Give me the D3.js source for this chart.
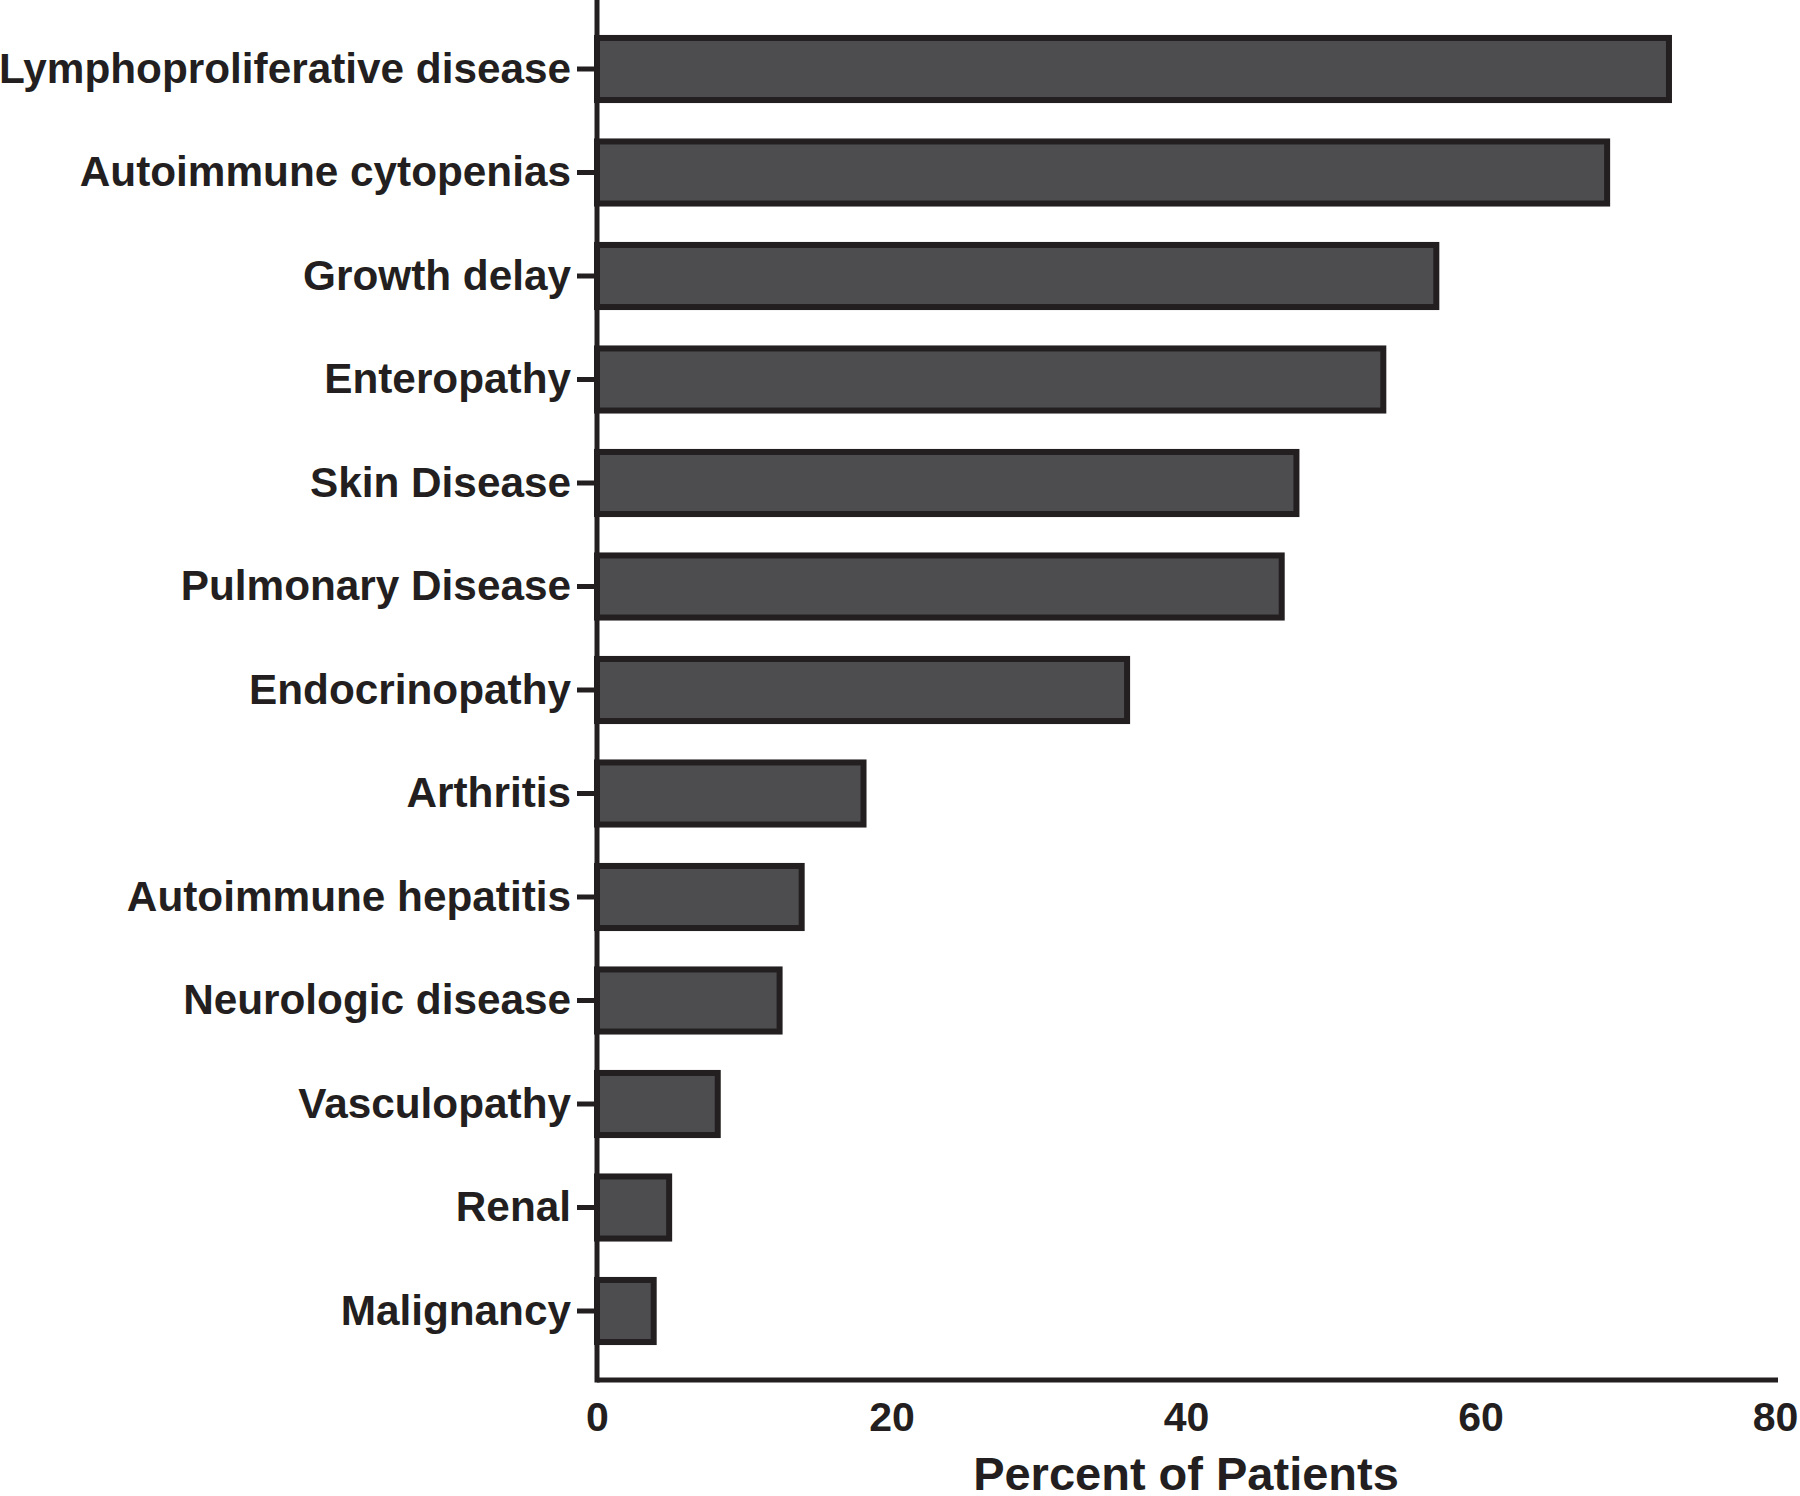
<!DOCTYPE html>
<html>
<head>
<meta charset="utf-8">
<script src="https://cdn.jsdelivr.net/npm/d3@7"></script>
<style>
  body { margin: 0; background: #fff; }
  svg { display: block; }
  text { font-family: "Liberation Sans", Arial, Helvetica, sans-serif; font-weight: bold; fill: #231f20; }
</style>
</head>
<body>
<svg id="chart" width="1800" height="1496"></svg>
<script>
const categories = [
  "Lymphoproliferative disease",
  "Autoimmune cytopenias",
  "Growth delay",
  "Enteropathy",
  "Skin Disease",
  "Pulmonary Disease",
  "Endocrinopathy",
  "Arthritis",
  "Autoimmune hepatitis",
  "Neurologic disease",
  "Vasculopathy",
  "Renal",
  "Malignancy"
];
const values = [72.8, 68.6, 57.0, 53.4, 47.5, 46.5, 36.0, 18.1, 13.9, 12.4, 8.2, 4.9, 3.85];
const xTicks = [0, 20, 40, 60, 80];
const xTitle = "Percent of Patients";

const svg = d3.select("#chart");
const ink = "#231f20";
const fill = "#4d4d4f";

const x = d3.scaleLinear().domain([0, 80]).range([597, 1775]);
const y = d3.scaleBand().domain(categories).range([17.25, 1362.75]).paddingInner(0.4).paddingOuter(0.2);
const axisY0 = 0, axisY1 = 1380;

// bars
svg.append("g").selectAll("rect").data(categories).join("rect")
  .attr("x", x(0))
  .attr("y", d => y(d))
  .attr("width", (d, i) => x(values[i]) - x(0))
  .attr("height", y.bandwidth())
  .attr("fill", fill)
  .attr("stroke", ink)
  .attr("stroke-width", 6);

// y axis
const yAxis = d3.axisLeft(y).tickSize(20).tickPadding(6).tickSizeOuter(0);
const gy = svg.append("g").attr("transform", `translate(${x(0)},0)`).call(yAxis);
gy.select(".domain").remove();
gy.selectAll(".tick line").attr("stroke", ink).attr("stroke-width", 5);
gy.selectAll(".tick text").attr("font-size", 42.3).attr("fill", ink)
  .style("font-family", '"Liberation Sans", Arial, sans-serif').style("font-weight", "bold");
svg.append("line").attr("x1", x(0)).attr("x2", x(0)).attr("y1", axisY0).attr("y2", axisY1 + 2.5)
  .attr("stroke", ink).attr("stroke-width", 5);

// x axis
const xAxis = d3.axisBottom(x).tickValues(xTicks).tickSize(0).tickPadding(22).tickFormat(d3.format("d"));
const gx = svg.append("g").attr("transform", `translate(0,${axisY1})`).call(xAxis);
gx.select(".domain").remove();
gx.selectAll(".tick text").attr("font-size", 41).attr("fill", ink)
  .style("font-family", '"Liberation Sans", Arial, sans-serif').style("font-weight", "bold");
svg.append("line").attr("x1", x(0)).attr("x2", x(80) + 3).attr("y1", axisY1).attr("y2", axisY1)
  .attr("stroke", ink).attr("stroke-width", 5);

// x title
svg.append("text")
  .attr("x", (x(0) + x(80)) / 2)
  .attr("y", 1490)
  .attr("text-anchor", "middle")
  .attr("font-size", 47)
  .text(xTitle);
</script>
</body>
</html>
